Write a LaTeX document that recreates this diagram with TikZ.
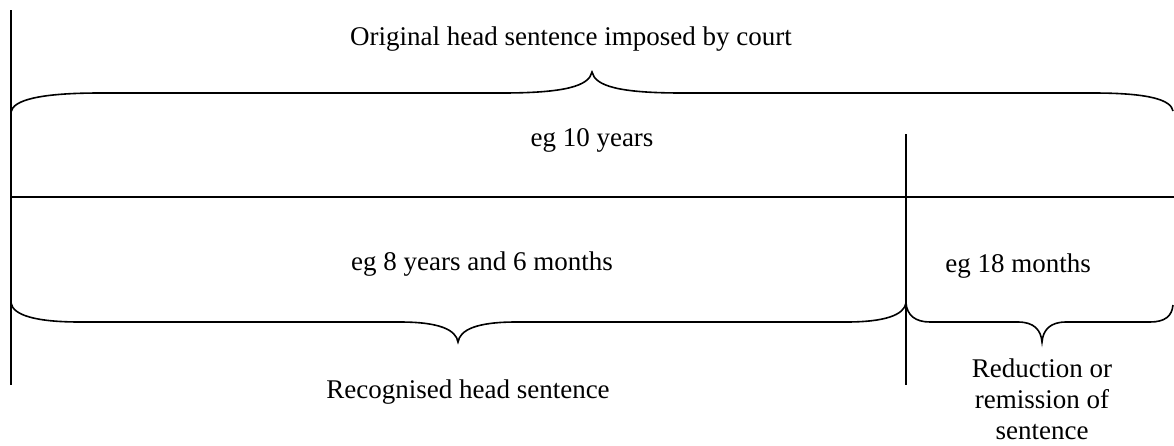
\documentclass[tikz,border=0pt]{standalone}
\usepackage{fontspec}
\setmainfont{Liberation Serif}
\usetikzlibrary{positioning}
\usetikzlibrary{calc}

\begin{document}
\begin{tikzpicture}[x=1pt,y=-1pt,
        line/.style={line width=1.6pt},
        lbl/.style={inner sep=0pt, font=\fontsize{27}{31}\selectfont}]
		% Frame of the page
		\useasboundingbox (0,0) rectangle (1174,445);

		% Define the coordinates of the points
		\coordinate (lt) at (11,10);
		\coordinate (lb) at (11,385);
		\coordinate (mt) at (906,134);
		\coordinate (mb) at (906,385);
		\coordinate (hl) at (11,197);
		\coordinate (hr) at (1174,197);

        % Draw the lines
        \draw[line] (lt) -- (lb);
        \draw[line] (mt) -- (mb);
        \draw[line] (hl) -- (hr);

        % Top brace
        \draw[line] (11,112) .. controls (13,100) and (40,93) .. (100,93) -- (502,93)
            .. controls (565,93) and (589,86) .. (592,72)
            .. controls (595,86) and (619,93) .. (682,93) -- (1093,93)
            .. controls (1150,93) and (1171,100) .. (1173,111);

        % Bottom braces
        \draw[line] (11,303) .. controls (13,315) and (35,322) .. (80,322) -- (400,322)
            .. controls (440,322) and (456,330) .. (458,342)
            .. controls (460,330) and (476,322) .. (516,322) -- (846,322)
            .. controls (885,322) and (904,315) .. (906,303);
        \draw[line] (906,303) .. controls (907,315) and (915,322) .. (930,322) -- (1018,322)
            .. controls (1034,322) and (1041,330) .. (1042,342)
            .. controls (1043,330) and (1050,322) .. (1066,322) -- (1150,322)
            .. controls (1165,322) and (1172,316) .. (1173,305);

        % Labels
        \node[lbl, anchor=base] (court) at (571,45) {Original head sentence imposed by court};
        \node[lbl, anchor=base] (ten) at (592,146) {eg 10 years};
        \node[lbl, anchor=base] (eight) at (482,270) {eg 8 years and 6 months};
        \node[lbl, anchor=base] (months) at (1018,272) {eg 18 months};
        \node[lbl, anchor=base] (recog) at (468,398) {Recognised head sentence};
        \node[lbl, anchor=north, align=center] (reduce) at (1042,359) {Reduction or\\remission of\\sentence};
     \end{tikzpicture}
\end{document}
